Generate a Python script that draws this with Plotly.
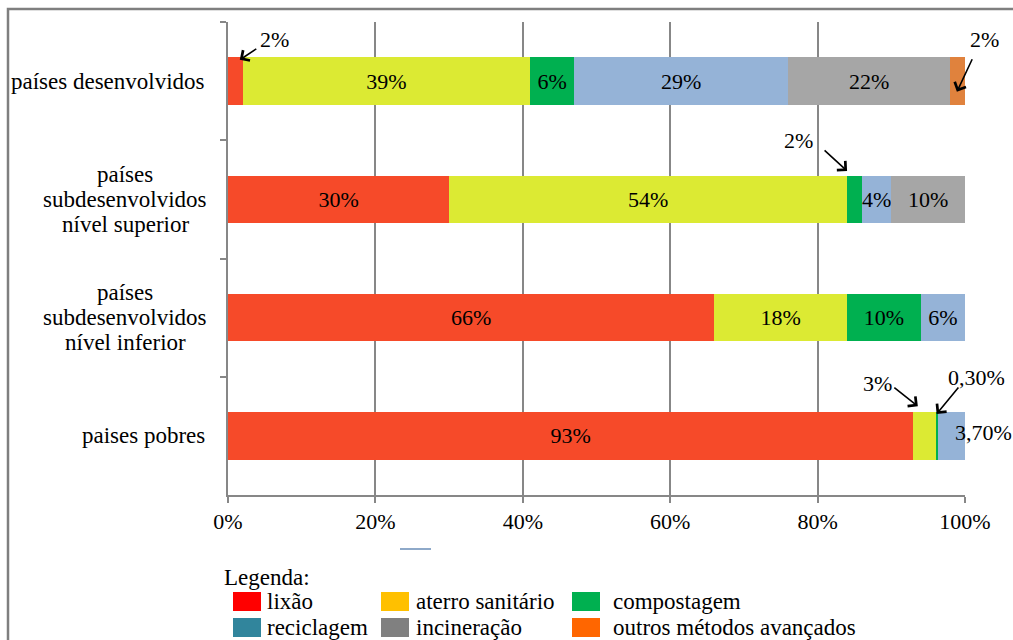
import plotly.graph_objects as go

# Categorias (de cima para baixo) e os rótulos exibidos ao lado do eixo
categorias = [
    "países desenvolvidos",
    "países subdesenvolvidos nível superior",
    "países subdesenvolvidos nível inferior",
    "paises pobres",
]
rotulos_categoria = [
    ["países desenvolvidos"],
    ["países", "subdesenvolvidos", "nível superior"],
    ["países", "subdesenvolvidos", "nível inferior"],
    ["paises pobres"],
]

# Participação (%) de cada destino por grupo de países
lixao = [2, 30, 66, 93]
aterro = [39, 54, 18, 3]
compostagem = [6, 2, 10, 0.3]
reciclagem = [29, 4, 6, 3.7]
incineracao = [22, 10, 0, 0]
outros = [2, 0, 0, 0]

series = [lixao, aterro, compostagem, reciclagem, incineracao, outros]
cores_barras = ["#F64A29", "#DCEA33", "#00B050", "#95B3D7", "#A6A6A6", "#E0823D"]

ticks_x = [0, 20, 40, 60, 80, 100]

# Legenda desenhada à parte
legenda_itens = ["lixão", "aterro sanitário", "compostagem",
                 "reciclagem", "incineração", "outros métodos avançados"]
legenda_cores = ["#FF0000", "#FFC000", "#00B050", "#31859C", "#808080", "#FF6600"]

FONTE = "Liberation Serif, Times New Roman, serif"
TAM = 22       # valores e eixo x
TAM_ROT = 23   # nomes das categorias e legenda

W, H = 1013, 640
ML, MR, MT, MB = 228, 48, 22, 145
PW, PH = W - ML - MR, H - MT - MB


def pxx(x):
    return (x - ML) / PW


def pxy(y):
    return (H - MB - y) / PH


def fmt(v):
    if float(v).is_integer():
        return f"{int(v)}%"
    return f"{v:.2f}".replace(".", ",") + "%"


def fonte(t=TAM):
    return dict(family=FONTE, size=t, color="black")


fig = go.Figure()
for vals, cor in zip(series, cores_barras):
    textos = [fmt(v) if v >= 4 else "" for v in vals]
    fig.add_trace(go.Bar(
        y=categorias, x=vals, orientation="h",
        marker=dict(color=cor, line=dict(width=0)),
        text=textos, textposition="inside", insidetextanchor="middle",
        textangle=0, textfont=fonte(), insidetextfont=fonte(),
        hoverinfo="skip", showlegend=False,
    ))

anot = []

# Nomes das categorias: uma linha alinhada à direita, várias linhas centralizadas
for i, linhas in enumerate(rotulos_categoria):
    n = len(linhas)
    for k, linha in enumerate(linhas):
        anot.append(dict(
            x=0, xref="paper", y=i, yref="y",
            xanchor="right" if n == 1 else "center",
            xshift=-21 if n == 1 else -103,
            yshift=((n - 1) / 2 - k) * 25,
            text=linha, showarrow=False, font=fonte(TAM_ROT),
        ))


# Valores pequenos indicados por setas
def inicio(serie, cat):
    return sum(series[s][cat] for s in range(serie))


chamadas = [
    # serie, categoria, fração no segmento, desl. vertical (cat.), cauda (px), texto (px)
    (0, 0, 0.80, -0.18, (18, -12), (35, -20)),
    (5, 0, 0.45, 0.09, (16, -34), (28, -52)),
    (2, 1, 0.00, -0.24, (-24, -22), (-49, -31)),
    (1, 3, 0.20, -0.25, (-25, -20), (-40, -23)),
    (2, 3, 0.50, -0.185, (23, -28), (40, -37)),
]
for s, c, fr, dy, cauda, txt in chamadas:
    v = series[s][c]
    hx = inicio(s, c) + fr * v
    hy = c + dy
    anot.append(dict(
        x=hx, y=hy, xref="x", yref="y", text="", showarrow=True,
        ax=cauda[0], ay=cauda[1], arrowhead=4, arrowsize=1.5,
        arrowwidth=1.6, arrowcolor="black", standoff=0, startstandoff=0,
    ))
    anot.append(dict(
        x=hx, y=hy, xref="x", yref="y", text=fmt(v), showarrow=False,
        xshift=txt[0], yshift=-txt[1], xanchor="center", yanchor="middle",
        font=fonte(),
    ))

# Reciclagem dos países pobres: rótulo junto à extremidade da barra
anot.append(dict(
    x=100, y=3, xref="x", yref="y", text=fmt(reciclagem[3]), showarrow=False,
    xanchor="left", xshift=-12, yshift=3, font=fonte(),
))

# Legenda
anot.append(dict(
    x=pxx(222), y=pxy(577), xref="paper", yref="paper", text="Legenda:",
    showarrow=False, xanchor="left", yanchor="middle", font=fonte(TAM_ROT),
))
shapes = []
col_quad = [233, 381, 572]
col_txt = [265, 414, 611]
lin_y = [601, 627]
for j, (nome, cor) in enumerate(zip(legenda_itens, legenda_cores)):
    r, c = divmod(j, 3)
    yc = lin_y[r]
    shapes.append(dict(
        type="rect", xref="paper", yref="paper",
        x0=pxx(col_quad[c]), x1=pxx(col_quad[c] + 28),
        y0=pxy(yc + 10), y1=pxy(yc - 9),
        fillcolor=cor, line=dict(width=0),
    ))
    anot.append(dict(
        x=pxx(col_txt[c]), y=pxy(yc), xref="paper", yref="paper", text=nome,
        showarrow=False, xanchor="left", yanchor="middle", font=fonte(TAM_ROT),
    ))

# Pequeno traço azul abaixo do eixo
shapes.append(dict(
    type="line", xref="paper", yref="paper",
    x0=pxx(400), x1=pxx(431), y0=pxy(549), y1=pxy(549),
    line=dict(color="#8EA9C9", width=2),
))

# Moldura (esquerda e topo)
shapes.append(dict(
    type="path", xref="paper", yref="paper",
    path=f"M {pxx(8)},{pxy(660)} L {pxx(8)},{pxy(9)} L {pxx(1020)},{pxy(9)}",
    line=dict(color="#7F7F7F", width=2.5),
))

fig.update_layout(
    barmode="stack", bargap=0.6,
    width=W, height=H,
    margin=dict(l=ML, r=MR, t=MT, b=MB, pad=0),
    paper_bgcolor="white", plot_bgcolor="white",
    font=fonte(),
    uniformtext=dict(minsize=TAM, mode="show"),
    xaxis=dict(
        range=[0, 100], tickvals=ticks_x, ticktext=[f"{t}%" for t in ticks_x],
        showgrid=True, gridcolor="#878787", gridwidth=1.6,
        showline=True, linecolor="#878787", linewidth=1.6,
        ticks="outside", ticklen=6, tickcolor="#878787", tickwidth=1.6,
        ticklabelstandoff=0, zeroline=False, fixedrange=True,
        tickfont=fonte(),
    ),
    yaxis=dict(
        categoryorder="array", categoryarray=categorias,
        autorange="reversed", showticklabels=False,
        showgrid=False, showline=True, linecolor="#878787", linewidth=1.6,
        ticks="outside", tickson="boundaries", ticklen=6,
        tickcolor="#878787", tickwidth=1.6, zeroline=False, fixedrange=True,
    ),
    annotations=anot, shapes=shapes,
)

fig.write_html("out.html")
